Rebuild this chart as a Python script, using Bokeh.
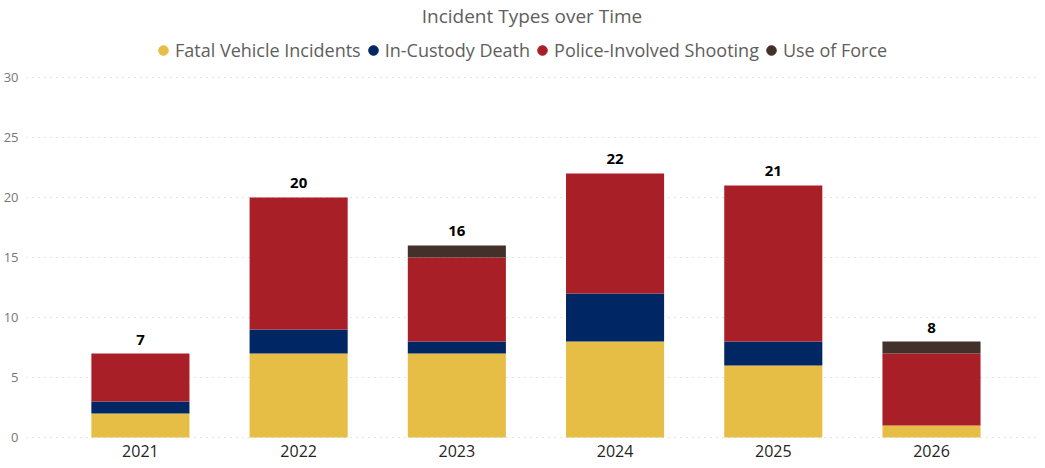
import numpy as np
from bokeh.plotting import figure
from bokeh.models import ColumnDataSource, Legend, LegendItem, FixedTicker, Range1d
from bokeh.core.properties import value
from bokeh.embed import file_html
from bokeh.resources import INLINE

years = ["2021", "2022", "2023", "2024", "2025", "2026"]
fatal_vehicle = [2, 7, 7, 8, 6, 1]
in_custody = [1, 2, 1, 4, 2, 0]
police_shooting = [4, 11, 7, 10, 13, 6]
use_of_force = [0, 0, 1, 0, 0, 1]
y_ticks = [0, 5, 10, 15, 20, 25, 30]

series = ["Fatal Vehicle Incidents", "In-Custody Death", "Police-Involved Shooting", "Use of Force"]
keys = ["fv", "ic", "ps", "uf"]
colors = ["#E6BE46", "#002664", "#A91F27", "#42302A"]

totals = (np.array(fatal_vehicle) + np.array(in_custody) + np.array(police_shooting) + np.array(use_of_force)).tolist()
xpos = list(range(len(years)))
base = [0] * len(years)

src = ColumnDataSource(data=dict(x=xpos, year=years, base=base, fv=fatal_vehicle, ic=in_custody, ps=police_shooting,
                                 uf=use_of_force, total=totals, total_label=[str(t) for t in totals]))

FONT = "Open Sans"

p = figure(x_range=Range1d(-0.72, len(years) - 1 + 0.67), y_range=Range1d(-1.91, 34.07),
           width=1037, height=460, output_backend="svg", toolbar_location=None, x_axis_location=None,
           min_border_left=0, min_border_right=0, min_border_top=0, min_border_bottom=0)
p.outline_line_color = None
p.background_fill_color = "white"

p.vbar_stack(keys, x="x", width=0.62, color=colors, line_color=None, source=src)

p.text(x="x", y="total", text="total_label", source=src, text_align="center", text_baseline="bottom",
       y_offset=-9, text_font=value(FONT), text_font_size="15px", text_font_style="bold", text_color="#000000")

# category labels under the bars (x axis labels)
p.text(x="x", y="base", text="year", source=src, text_align="center", text_baseline="alphabetic",
       y_offset=13, text_font=value(FONT), text_font_size="16px", text_color="#252423")

# legend with circle markers (size 0 on the plot, circles in the legend)
items = []
for name, k, c in zip(series, keys, colors):
    r = p.scatter(x="x", y=k, source=src, marker="circle", size=0, color=c)
    items.append(LegendItem(label=name, renderers=[r]))
legend = Legend(items=items, orientation="horizontal", location=(125, 398),
                label_text_font=FONT, label_text_font_size="18px", label_text_color="#605E5C",
                glyph_width=24, glyph_height=24, label_standoff=0, spacing=0,
                border_line_color=None, background_fill_alpha=0, padding=0, margin=0)
p.add_layout(legend)

p.title.text = "Incident Types over Time"
p.title.align = "center"
p.title.text_font = FONT
p.title.text_font_size = "19px"
p.title.text_font_style = "normal"
p.title.text_color = "#605E5C"
p.title.standoff = 0
p.title.offset = 0

p.xgrid.grid_line_color = None
p.ygrid.grid_line_color = "#C8C8C8"
p.ygrid.grid_line_dash = "1 5"
p.ygrid.grid_line_width = 1

p.yaxis.ticker = FixedTicker(ticks=y_ticks)
p.yaxis.axis_line_color = None
p.yaxis.major_tick_line_color = None
p.yaxis.minor_tick_line_color = None
p.yaxis.major_tick_out = 0
p.yaxis.major_tick_in = 0
p.yaxis.major_label_text_font = FONT
p.yaxis.major_label_text_font_size = "13px"
p.yaxis.major_label_text_color = "#777777"
p.yaxis.major_label_standoff = 8

open("out.html", "w").write(file_html(p, INLINE))
